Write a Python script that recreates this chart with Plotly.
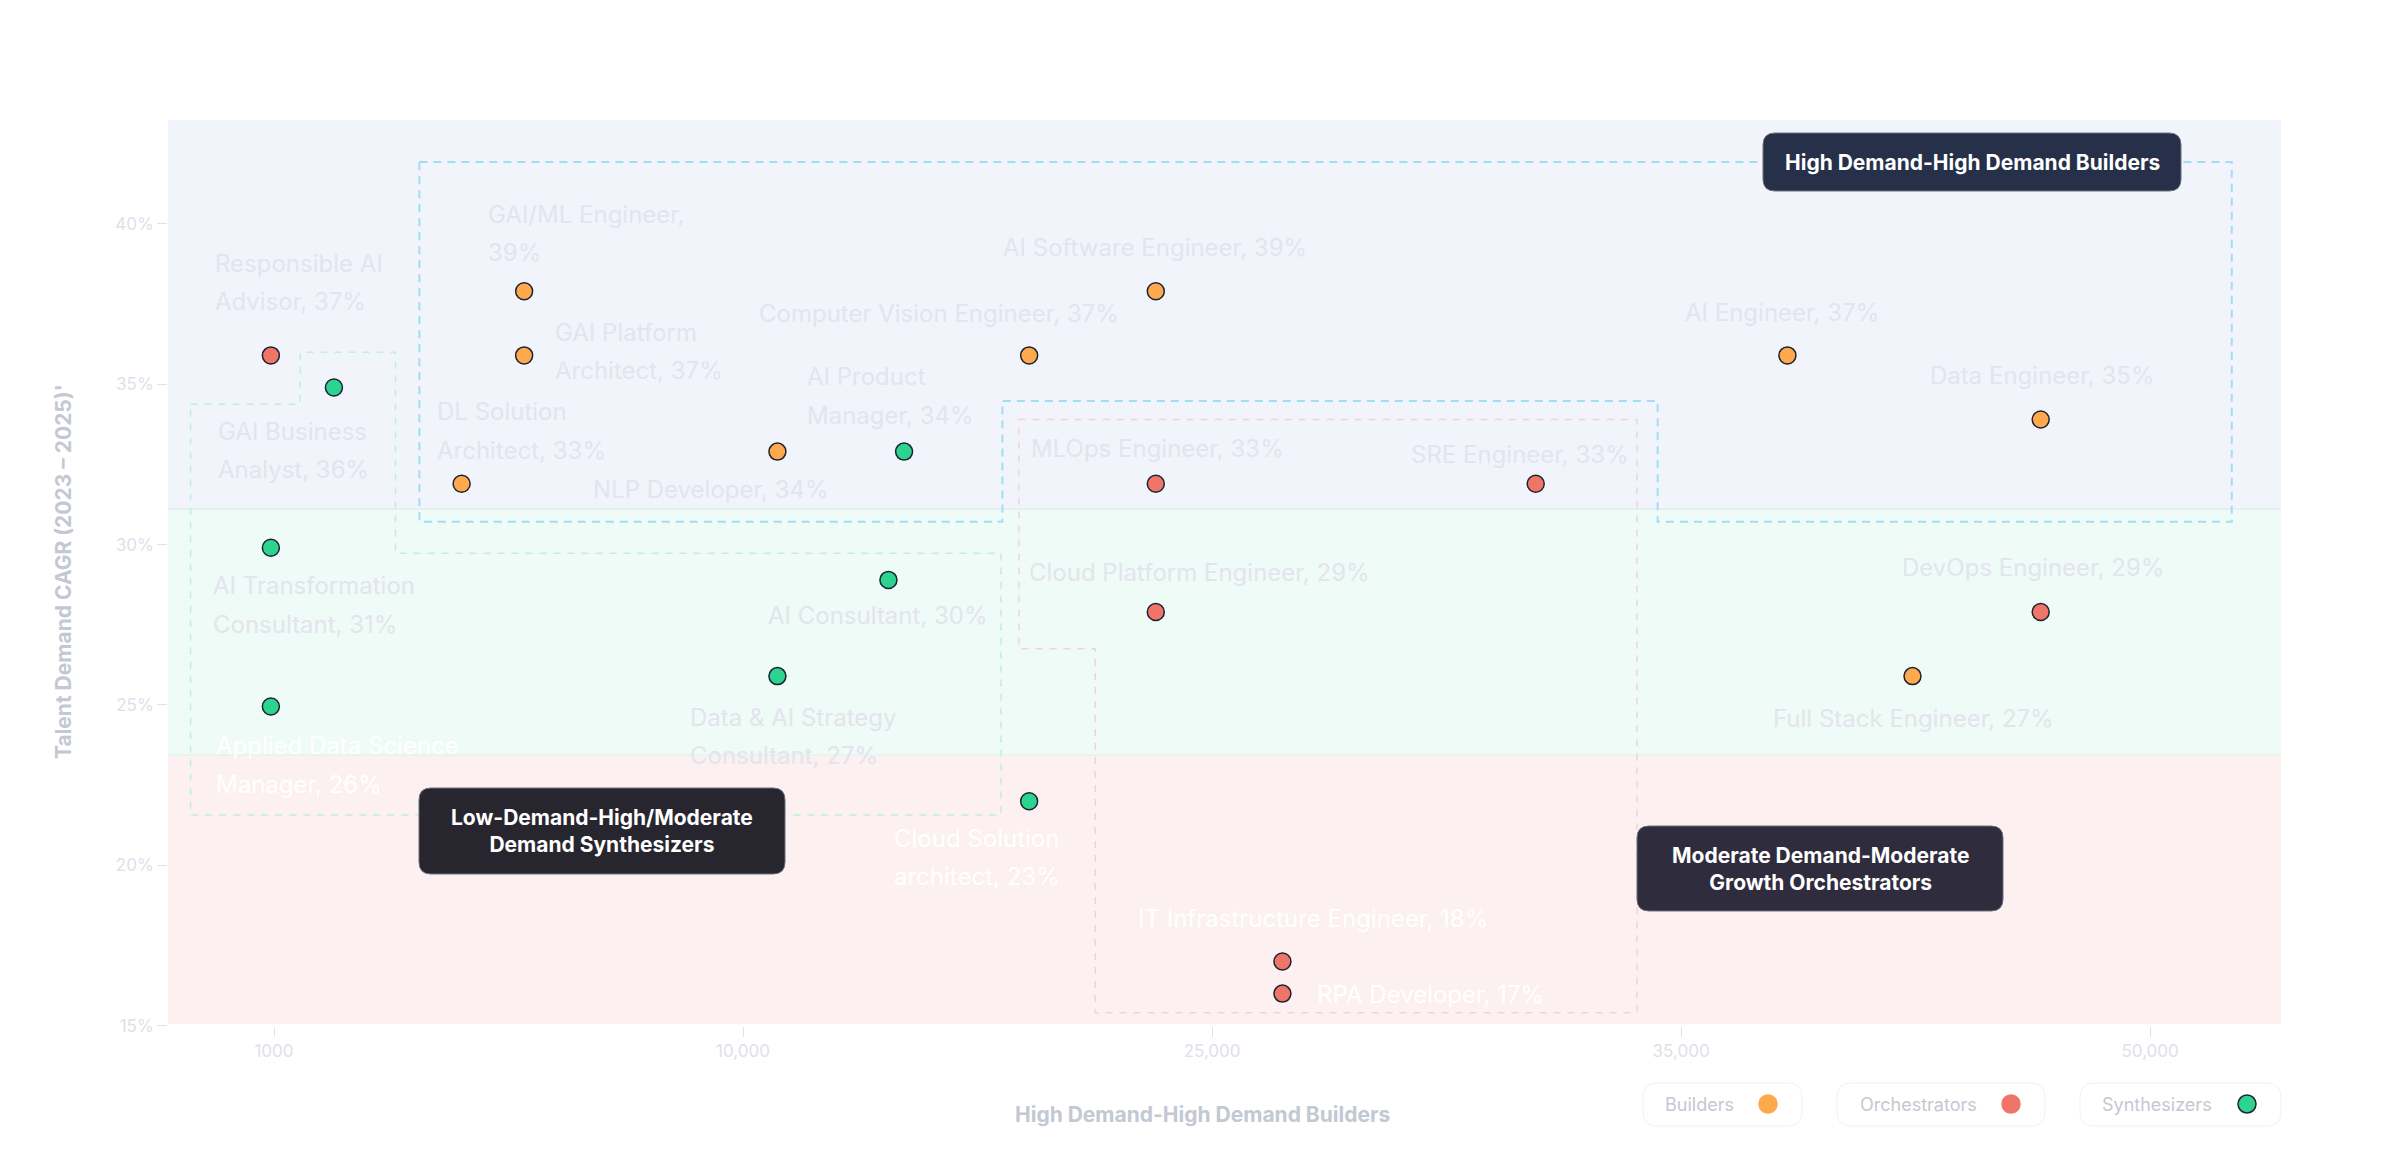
import numpy as np
import plotly.graph_objects as go

# ---------------- data ----------------
roles = ["Responsible AI Advisor", "GAI Business Analyst", "GAI/ML Engineer", "GAI Platform Architect",
         "DL Solution Architect", "NLP Developer", "AI Product Manager", "Computer Vision Engineer",
         "AI Software Engineer", "AI Transformation Consultant", "Applied Data Science Manager",
         "AI Consultant", "Data & AI Strategy Consultant", "Cloud Solution architect", "MLOps Engineer",
         "SRE Engineer", "Cloud Platform Engineer", "IT Infrastructure Engineer", "RPA Developer",
         "AI Engineer", "Data Engineer", "DevOps Engineer", "Full Stack Engineer"]
groups = ["Orchestrators", "Synthesizers", "Builders", "Builders", "Builders", "Builders", "Synthesizers",
          "Builders", "Builders", "Synthesizers", "Synthesizers", "Synthesizers", "Synthesizers",
          "Synthesizers", "Orchestrators", "Orchestrators", "Orchestrators", "Orchestrators",
          "Orchestrators", "Builders", "Builders", "Orchestrators", "Builders"]
talent_demand = [940, 2150, 5800, 5800, 4600, 11100, 15150, 19150, 23200, 940, 940, 14650, 11100,
                 19150, 23200, 31900, 23200, 26500, 26500, 38400, 46500, 46500, 42400]
cagr = [35.9, 34.9, 37.9, 35.9, 31.9, 32.9, 32.9, 35.9, 37.9, 29.9, 24.95, 28.9, 25.9, 22.0,
        31.9, 31.9, 27.9, 17.0, 16.0, 35.9, 33.9, 27.9, 25.9]
cagr_label = [37, 36, 39, 37, 33, 34, 34, 37, 39, 31, 26, 30, 27, 23, 33, 33, 29, 18, 17, 37, 35, 29, 27]

x_tick_values = [1000, 10000, 25000, 35000, 50000]
x_tick_labels = ["1000", "10,000", "25,000", "35,000", "50,000"]
y_tick_values = [15, 20, 25, 30, 35, 40]
y_tick_labels = ["15%", "20%", "25%", "30%", "35%", "40%"]
group_names = ["Builders", "Orchestrators", "Synthesizers"]

# ---------------- styling ----------------
FONT = "Inter"
group_colors = {"Builders": "#FFA94D", "Orchestrators": "#EF7568", "Synthesizers": "#2DD48F"}
# words in first line of the label (0 = single line)
wrap_after = [2, 2, 2, 2, 2, 0, 2, 0, 0, 2, 3, 0, 4, 2, 0, 0, 0, 0, 0, 0, 0, 0, 0]
# label placement relative to the point (pixels): anchor, dx, dy(down positive)
label_pos = [("left", -58, -92), ("left", -118, 44), ("left", -38, -77), ("left", 29, -23),
             ("left", -27, -72), ("center", -66, 38), ("left", -99, -75), ("center", -90, -42),
             ("center", -1, -44), ("left", -60, 38), ("left", -57, 39), ("center", -10, 36),
             ("left", -89, 41), ("left", -137, 37), ("center", 2, -35), ("center", -16, -29),
             ("center", 44, -39), ("center", 31, -43), ("left", 33, 1), ("center", -5, -43),
             ("center", 1, -44), ("center", -8, -44), ("center", 1, 42)]
white_labels = {"Applied Data Science Manager", "Cloud Solution architect",
                "IT Infrastructure Engineer", "RPA Developer"}
LINE_GAP = 38.5

# evenly spaced piecewise scale between the tick values (linear extension below the first tick)
tick_pos = np.arange(len(x_tick_values))
def xscale(v):
    v = np.asarray(v, dtype=float)
    inner = np.interp(v, x_tick_values, tick_pos)
    below = (v - x_tick_values[0]) / (x_tick_values[1] - x_tick_values[0])
    return np.where(v < x_tick_values[0], below, inner)

xp = xscale(talent_demand)

fig = go.Figure()
for g in group_names:
    idx = [i for i, gg in enumerate(groups) if gg == g]
    fig.add_trace(go.Scatter(
        x=[xp[i] for i in idx], y=[cagr[i] for i in idx], mode="markers", name=g,
        text=[roles[i] for i in idx],
        marker=dict(size=17, color=group_colors[g], line=dict(color="#1c2232", width=1.5)),
        showlegend=False, hoverinfo="text"))

annotations = []
for i, r in enumerate(roles):
    words = f"{r}, {cagr_label[i]}%".split(" ")
    n = wrap_after[i]
    lines = [" ".join(words)] if n == 0 else [" ".join(words[:n]), " ".join(words[n:])]
    anchor, dx, dy = label_pos[i]
    col = "#ffffff" if r in white_labels else "#e3e4ed"
    for k, ln in enumerate(lines):
        annotations.append(dict(x=xp[i], y=cagr[i], xref="x", yref="y", text=ln, showarrow=False,
                                xanchor=anchor, yanchor="middle", xshift=dx,
                                yshift=-(dy + k * LINE_GAP),
                                font=dict(family=FONT, size=24, color=col)))

# plot area geometry (page pixels); the page body adds an 8px offset
OFF = 8
L, T, W, H = 168, 120, 2113, 906
def PX(x): return (x - L) / W
def PY(y): return (T + H - y) / H

def rrect(x0, y0, x1, y1, r):
    return (f"M {PX(x0+r)},{PY(y0)} L {PX(x1-r)},{PY(y0)} Q {PX(x1)},{PY(y0)} {PX(x1)},{PY(y0+r)} "
            f"L {PX(x1)},{PY(y1-r)} Q {PX(x1)},{PY(y1)} {PX(x1-r)},{PY(y1)} "
            f"L {PX(x0+r)},{PY(y1)} Q {PX(x0)},{PY(y1)} {PX(x0)},{PY(y1-r)} "
            f"L {PX(x0)},{PY(y0+r)} Q {PX(x0)},{PY(y0)} {PX(x0+r)},{PY(y0)} Z")

shapes = []
# background bands
band_edges = [15.05, 23.44, 31.11, 43.24]
band_colors = ["#FCF0F0", "#EFFBF6", "#F1F4FB"]
for k in range(3):
    shapes.append(dict(type="rect", xref="paper", yref="y", x0=0, x1=1, y0=band_edges[k],
                       y1=band_edges[k + 1], fillcolor=band_colors[k], line=dict(width=0), layer="below"))
for e, c in [(23.44, "#eaf3ef"), (31.11, "#e6efee")]:
    shapes.append(dict(type="line", xref="paper", yref="y", x0=0, x1=1, y0=e, y1=e,
                       line=dict(color=c, width=2), layer="below"))

def poly(pts):
    return "M " + " L ".join(f"{a},{b}" for a, b in pts) + " Z"

blue_poly = [(0.310, 41.93), (4.174, 41.93), (4.174, 30.71), (2.950, 30.71), (2.950, 34.48),
             (1.553, 34.48), (1.553, 30.71), (0.310, 30.71)]
green_poly = [(-0.178, 34.38), (0.056, 34.38), (0.056, 36.0), (0.259, 36.0), (0.259, 29.73),
              (1.550, 29.73), (1.550, 21.57), (-0.178, 21.57)]
red_poly = [(1.588, 33.90), (2.906, 33.90), (2.906, 15.40), (1.751, 15.40), (1.751, 26.75),
            (1.588, 26.75)]
shapes.append(dict(type="path", xref="x", yref="y", path=poly(green_poly), layer="below",
                   line=dict(color="#bff0dc", width=1.5, dash="7px,7px")))
shapes.append(dict(type="path", xref="x", yref="y", path=poly(red_poly), layer="below",
                   line=dict(color="#f6d3d3", width=1.5, dash="7px,7px")))
shapes.append(dict(type="path", xref="x", yref="y", path=poly(blue_poly), layer="below",
                   line=dict(color="#a3dcf5", width=2, dash="8px,6px")))

# dark category boxes
boxes = [((1763, 133, 2181, 191), "#263049", "High Demand-High Demand Builders"),
         ((419, 788, 785, 874), "#27262f", "Low-Demand-High/Moderate<br>Demand Synthesizers"),
         ((1637, 826, 2003, 911), "#2f2c3d", "Moderate Demand-Moderate<br>Growth Orchestrators")]
for (x0, y0, x1, y1), c, txt in boxes:
    shapes.append(dict(type="path", xref="paper", yref="paper", path=rrect(x0, y0, x1, y1, 12),
                       fillcolor=c, line=dict(color="#6e6e7c", width=1), layer="above"))
    annotations.append(dict(x=PX((x0 + x1) / 2), y=PY((y0 + y1) / 2), xref="paper", yref="paper",
                            text=f"<b>{txt}</b>", showarrow=False, xanchor="center", yanchor="middle",
                            font=dict(family=FONT, size=21, color="#ffffff")))

# custom legend (text then marker)
legend_items = [("Builders", 1643, 1802, 1736, 1768, False),
                ("Orchestrators", 1837, 2045, 1979, 2011, False),
                ("Synthesizers", 2080, 2281, 2214, 2247, True)]
for name, bx0, bx1, tx, mx, outline in legend_items:
    shapes.append(dict(type="path", xref="paper", yref="paper", path=rrect(bx0, 1083, bx1, 1126, 14),
                       fillcolor="#ffffff", line=dict(color="#eef3f3", width=1), layer="above"))
    shapes.append(dict(type="circle", xref="paper", yref="paper", x0=PX(mx - 9), x1=PX(mx + 9),
                       y0=PY(1104 + 9), y1=PY(1104 - 9), fillcolor=group_colors[name],
                       line=dict(color="#1c2232" if outline else group_colors[name], width=1.5),
                       layer="above"))
    annotations.append(dict(x=PX(tx), y=PY(1104), xref="paper", yref="paper", text=name,
                            showarrow=False, xanchor="right", yanchor="middle",
                            font=dict(family=FONT, size=18, color="#c4c8d2")))

# axis titles
annotations.append(dict(x=PX(63), y=PY(572), xref="paper", yref="paper",
                        text="<b>Talent Demand CAGR (2023 – 2025)'</b>", textangle=-90,
                        showarrow=False, xanchor="center", yanchor="middle",
                        font=dict(family=FONT, size=21, color="#c3c8d2")))
annotations.append(dict(x=PX(1202), y=PY(1114), xref="paper", yref="paper",
                        text="<b>High Demand-High Demand Builders</b>",
                        showarrow=False, xanchor="center", yanchor="middle",
                        font=dict(family=FONT, size=21, color="#c3c8d2")))

FW, FH = 2400 - OFF, 1172 - OFF
fig.update_layout(
    width=FW, height=FH,
    margin=dict(l=L - OFF, r=FW - (L - OFF) - W, t=T - OFF, b=FH - (T - OFF) - H),
    paper_bgcolor="#ffffff", plot_bgcolor="#ffffff", showlegend=False,
    shapes=shapes, annotations=annotations,
    font=dict(family=FONT),
    xaxis=dict(range=[-0.226, 4.279], tickvals=list(tick_pos), ticktext=x_tick_labels,
               showgrid=False, zeroline=False, showline=False, ticks="outside", ticklen=10,
               tickcolor="#dfe2e8", tickwidth=1, tickfont=dict(family=FONT, size=17, color="#dde1e9")),
    yaxis=dict(range=[14.99, 43.24], tickvals=y_tick_values, ticktext=y_tick_labels,
               showgrid=False, zeroline=False, showline=False, ticks="outside", ticklen=10,
               tickcolor="#dfe2e8", tickwidth=1, tickfont=dict(family=FONT, size=17, color="#dde1e9")),
)

fig.write_html("out.html")
